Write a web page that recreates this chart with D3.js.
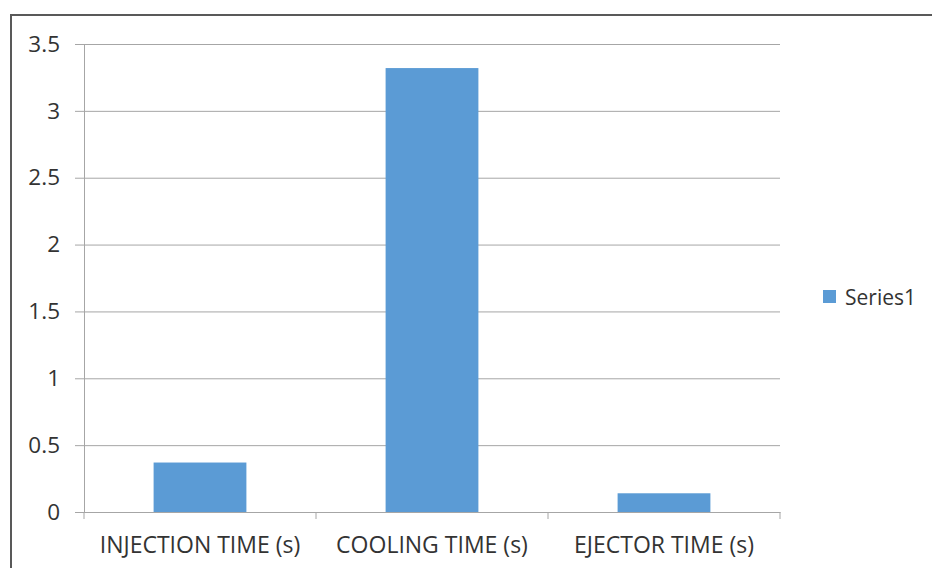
<!DOCTYPE html>
<html>
<head>
<meta charset="utf-8">
<script src="https://cdn.jsdelivr.net/npm/d3@7"></script>
<style>
  html, body { margin: 0; padding: 0; background: #fff; }
  svg { display: block; }
  text { font-family: "Open Sans", Lato, sans-serif; fill: #333; }
</style>
</head>
<body>
<svg id="chart" width="932" height="568"></svg>
<script>
// Process timing data
const categories = ["INJECTION TIME (s)", "COOLING TIME (s)", "EJECTOR TIME (s)"];
const series1 = [0.37, 3.32, 0.14];
const yTicks = [0, 0.5, 1, 1.5, 2, 2.5, 3, 3.5];
const seriesName = "Series1";

const svg = d3.select("#chart");
const W = 932, H = 568;
const plot = { left: 84, right: 780, top: 44, bottom: 512 };
const barColor = "#5b9bd5";
const gridColor = "#a6a6a6";
const fontFamily = "'Open Sans', Lato, sans-serif";
const fontSize = 22.5;

// Outer chart frame (extends past the visible area on right and bottom)
svg.append("rect")
  .attr("x", 11).attr("y", 15)
  .attr("width", W + 20).attr("height", H + 20)
  .attr("fill", "none").attr("stroke", "#595959").attr("stroke-width", 2);

const x = d3.scaleBand()
  .domain(categories)
  .range([plot.left, plot.right])
  .paddingInner(0.6)
  .paddingOuter(0.3);

const y = d3.scaleLinear()
  .domain([0, 3.5])
  .range([plot.bottom, plot.top]);

// Horizontal gridlines with left tick stubs and labels
const yAxis = d3.axisLeft(y)
  .tickValues(yTicks)
  .tickSize(-(plot.right - plot.left))
  .tickSizeOuter(0)
  .tickPadding(24)
  .tickFormat(d => String(d));

const gy = svg.append("g")
  .attr("transform", `translate(${plot.left},0)`)
  .call(yAxis);
gy.select(".domain").attr("stroke", gridColor);
gy.selectAll(".tick line")
  .attr("stroke", gridColor)
  .attr("x1", -9);
gy.selectAll(".tick text")
  .attr("font-size", fontSize)
  .attr("font-family", fontFamily)
  .attr("fill", "#333");

// Bars
svg.append("g")
  .selectAll("rect")
  .data(series1)
  .join("rect")
  .attr("x", (d, i) => x(categories[i]))
  .attr("y", d => y(d))
  .attr("width", x.bandwidth())
  .attr("height", d => y(0) - y(d))
  .attr("fill", barColor);

// Category axis
const xAxis = d3.axisBottom(x).tickSize(0).tickPadding(25);
const gx = svg.append("g")
  .attr("transform", `translate(0,${plot.bottom})`)
  .call(xAxis);
gx.select(".domain").attr("stroke", gridColor);
gx.selectAll(".tick text")
  .attr("font-size", 23)
  .attr("font-family", fontFamily)
  .attr("fill", "#333");

// Category separator ticks at band boundaries
const boundaries = categories.map(c => x(c) - x.step() * x.paddingOuter())
  .concat([plot.right]);
gx.selectAll(".sep")
  .data(boundaries)
  .join("line")
  .attr("x1", d => d).attr("x2", d => d)
  .attr("y1", 0).attr("y2", 7)
  .attr("stroke", gridColor);

// Legend
const lg = svg.append("g").attr("transform", "translate(823,290)");
lg.append("rect").attr("width", 13).attr("height", 13).attr("fill", barColor);
lg.append("text")
  .attr("x", 22).attr("y", 15)
  .attr("font-size", 21)
  .attr("font-family", fontFamily)
  .text(seriesName);
</script>
</body>
</html>
